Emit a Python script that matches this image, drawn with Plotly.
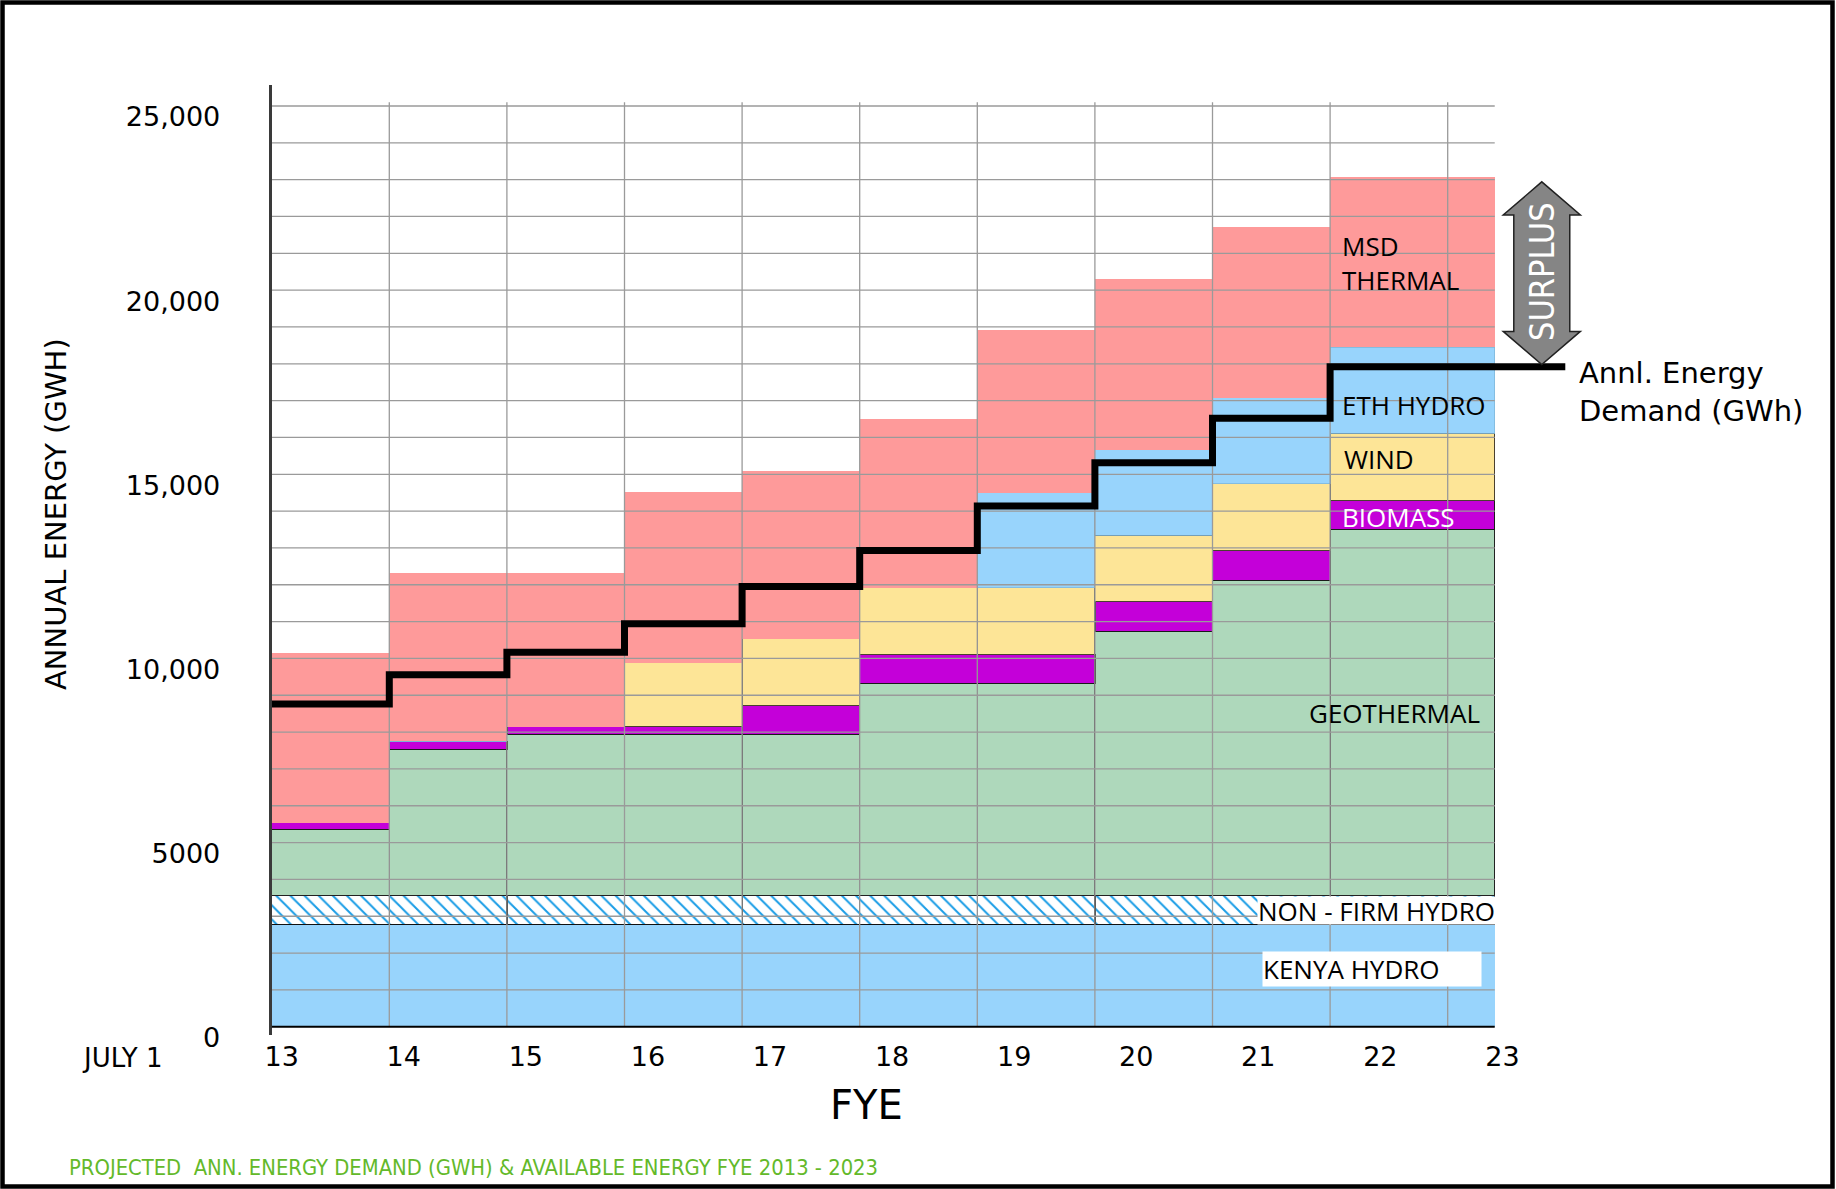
import plotly.graph_objects as go

# ---------------- data ----------------
fy_start = [13, 14, 15, 16, 17, 18, 19, 20, 21, 22]
fy_end = [14, 15, 16, 17, 18, 19, 20, 21, 22, 23.4]

kenya_hydro = [2780, 2780, 2780, 2780, 2780, 2780, 2780, 2780, 2780, 2780]
non_firm_hydro = [780, 780, 780, 780, 780, 780, 780, 780, 780, 780]
geothermal = [1800, 3970, 4380, 4380, 4380, 5770, 5770, 7170, 8560, 9930]
biomass = [180, 220, 210, 210, 790, 780, 780, 810, 820, 810]
wind = [0, 0, 0, 1730, 1800, 1810, 1810, 1810, 1800, 1810]
eth_hydro = [0, 0, 0, 0, 0, 0, 2580, 2320, 2340, 2340]
msd_thermal = [4600, 4580, 4180, 4640, 4570, 4570, 4420, 4640, 4630, 4630]

demand = [8760, 9560, 10170, 10940, 11950, 12930, 14140, 15310, 16520, 17920]
demand_line_end = 24.0

x_tick_vals = [13, 14, 15, 16, 17, 18, 19, 20, 21, 22, 23]
x_tick_text = ["13", "14", "15", "16", "17", "18", "19", "20", "21", "22", "23"]
y_tick_vals = [0, 5000, 10000, 15000, 20000, 25000]
y_tick_text = ["0", "5000", "10,000", "15,000", "20,000", "25,000"]
grid_step = 1000
grid_top = 25100

# ---------------- layout geometry (pixels) ----------------
W, H = 1836, 1189
PLOT_L, PLOT_R = 271.7, 1600.0
PLOT_T, PLOT_B = 85.0, 1035.2
PX_PER_YEAR = 117.6
PX_PER_GWH = 36.83 / 1000
X_MIN = 13
X_MAX = X_MIN + (PLOT_R - PLOT_L) / PX_PER_YEAR
Y_MIN = -230
Y_MAX = Y_MIN + (PLOT_B - PLOT_T) / PX_PER_GWH
LABEL_X13 = 281.7
LABEL_PX = 122.07
X2_MIN = 13 - (LABEL_X13 - PLOT_L) / LABEL_PX
X2_MAX = 13 + (PLOT_R - LABEL_X13) / LABEL_PX


def px(x):
    return x / W


def py(y):
    return 1 - y / H


LUCIDA = "DejaVu Sans"
LABELF = "Open Sans"
NARROW = "Liberation Sans Narrow, DejaVu Sans Condensed, Liberation Sans, sans-serif"

widths = [e - s for s, e in zip(fy_start, fy_end)]

fig = go.Figure()


def add_layer(name, vals, fill, line_color, line_width, pattern=None):
    marker = dict(color=fill, line=dict(color=line_color, width=line_width))
    if pattern is not None:
        marker["pattern"] = pattern
    fig.add_trace(go.Bar(x=fy_start, y=vals, width=widths, offset=0, name=name,
                         marker=marker, hoverinfo="name+y"))


add_layer("Kenya Hydro", kenya_hydro, "#98d4fc", "#98d4fc", 0)
add_layer("Non-Firm Hydro", non_firm_hydro, "white", "#111111", 1.2,
          pattern=dict(shape="\\", fgcolor="#1a9de6", bgcolor="white",
                       size=10, solidity=0.2, fillmode="replace"))
add_layer("Geothermal", geothermal, "#aed8bb", "#222222", 1)
add_layer("Biomass", biomass, "#c400d9", "#1a1a1a", 1.2)
add_layer("Wind", wind, "#fde597", "#4a4030", 1)
add_layer("ETH Hydro", eth_hydro, "#98d4fc", "#7fb6da", 0.8)
add_layer("MSD Thermal", msd_thermal, "#fe9a9a", "#fe9a9a", 0)

# grid lines drawn over the fills (as in the reference)
gx, gy = [], []
v = grid_step
while v <= y_tick_vals[-1]:
    gx += [fy_start[0], fy_end[-1], None]
    gy += [v, v, None]
    v += grid_step
for t in x_tick_vals[1:]:
    gx += [t, t, None]
    gy += [0, grid_top, None]
fig.add_trace(go.Scatter(x=gx, y=gy, mode="lines", line=dict(color="#9a9a9a", width=1.3),
                         hoverinfo="skip", showlegend=False))

# annual energy demand step line
fig.add_trace(go.Scatter(x=fy_start + [demand_line_end], y=demand + [demand[-1]],
                         mode="lines", line=dict(color="black", width=7, shape="hv"),
                         name="Annl. Energy Demand (GWh)", showlegend=False))

# dummy trace carrying the tick-label axis
fig.add_trace(go.Scatter(x=[], y=[], xaxis="x2", yaxis="y", showlegend=False, hoverinfo="skip"))

# ---------------- shapes ----------------
shapes = []
shapes.append(dict(type="line", xref="x", yref="y", x0=fy_start[0], x1=fy_end[-1], y0=0, y1=0,
                   line=dict(color="black", width=2), layer="above"))

# surplus double arrow between demand and available energy in the final year
total_last = (kenya_hydro[-1] + non_firm_hydro[-1] + geothermal[-1] + biomass[-1]
              + wind[-1] + eth_hydro[-1] + msd_thermal[-1])
ax_c = 23.8
sw, hw = 0.238, 0.328
tip_top = total_last - 140
tip_bot = demand[-1] + 60
head = 900
pts = [
    (ax_c - sw, tip_top - head), (ax_c - hw, tip_top - head), (ax_c, tip_top),
    (ax_c + hw, tip_top - head), (ax_c + sw, tip_top - head),
    (ax_c + sw, tip_bot + head), (ax_c + hw, tip_bot + head), (ax_c, tip_bot),
    (ax_c - hw, tip_bot + head), (ax_c - sw, tip_bot + head),
]
path = "M " + " L ".join(f"{x},{y}" for x, y in pts) + " Z"
shapes.append(dict(type="path", xref="x", yref="y", path=path, fillcolor="#858585",
                   line=dict(color="#222222", width=1.5), layer="above"))

# outer frame
shapes.append(dict(type="rect", xref="paper", yref="paper", x0=px(2.5), x1=px(1832.5),
                   y0=py(1186.5), y1=py(2.5), line=dict(color="black", width=4.5),
                   fillcolor="rgba(0,0,0,0)", layer="above"))

# ---------------- annotations ----------------
ann = []


def label(text, x, y, size=26, color="black", family=LABELF, xanchor="left", **kw):
    d = dict(text=text, x=px(x), y=py(y), xref="paper", yref="paper", showarrow=False,
             xanchor=xanchor, yanchor="middle", font=dict(family=family, size=size, color=color))
    d.update(kw)
    ann.append(d)


label("MSD<br>THERMAL", 1340, 263, size=26, align="left")
label("ETH HYDRO", 1340, 405, size=26)
label("WIND", 1342, 459, size=26)
label("BIOMASS", 1340, 517, size=26, color="white")
label("GEOTHERMAL", 1307, 713, size=26)
label("NON - FIRM HYDRO", 1257, 910, size=26, bgcolor="white", width=237, height=27,
      borderpad=0, align="left")
label("KENYA HYDRO", 1261.5, 969, size=26, bgcolor="white", width=218, height=34,
      borderpad=0, align="left")

label("Annl. Energy<br>Demand (GWh)", 1577, 392, size=29, family=LUCIDA, align="left")
label("SURPLUS", 1542, 272, size=34, color="white", family=NARROW, xanchor="center",
      textangle=-90)

label("ANNUAL ENERGY (GWH)", 56, 514, size=29, family=LUCIDA, xanchor="center", textangle=-90)
label("FYE", 866, 1105, size=40, family=LUCIDA, xanchor="center")
label("JULY 1", 122, 1058, size=26, family=LUCIDA, xanchor="center")
label("PROJECTED&nbsp;&nbsp;ANN. ENERGY DEMAND (GWH) &amp; AVAILABLE ENERGY FYE 2013 - 2023",
      67, 1167, size=21.8, color="#63b92a", family=NARROW)

fig.update_layout(
    width=W, height=H, autosize=False,
    margin=dict(l=0, r=0, t=0, b=0, pad=0),
    paper_bgcolor="white", plot_bgcolor="rgba(0,0,0,0)",
    template="none",
    barmode="stack", showlegend=False,
    xaxis=dict(domain=[px(PLOT_L), px(PLOT_R)], range=[X_MIN, X_MAX], showticklabels=False,
               showgrid=False, zeroline=False, showline=False, ticks=""),
    xaxis2=dict(overlaying="x", anchor="y", side="bottom", range=[X2_MIN, X2_MAX],
                tickmode="array", tickvals=x_tick_vals, ticktext=x_tick_text,
                tickfont=dict(family=LUCIDA, size=27, color="black"),
                showgrid=False, zeroline=False, showline=False, ticks="",
                ticklabelstandoff=3),
    yaxis=dict(domain=[py(PLOT_B), py(PLOT_T)], range=[Y_MIN, Y_MAX],
               tickmode="array", tickvals=y_tick_vals, ticktext=y_tick_text,
               tickfont=dict(family=LUCIDA, size=27, color="black"),
               showgrid=False, zeroline=False, showline=True, linecolor="#3a3a3a",
               linewidth=3, ticks="", ticklabelshift=11, ticklabelstandoff=43),
    shapes=shapes,
    annotations=ann,
)

fig.write_html("out.html", config={"displayModeBar": False},
               post_script="document.body.style.margin='0';document.body.style.overflow='hidden';")
